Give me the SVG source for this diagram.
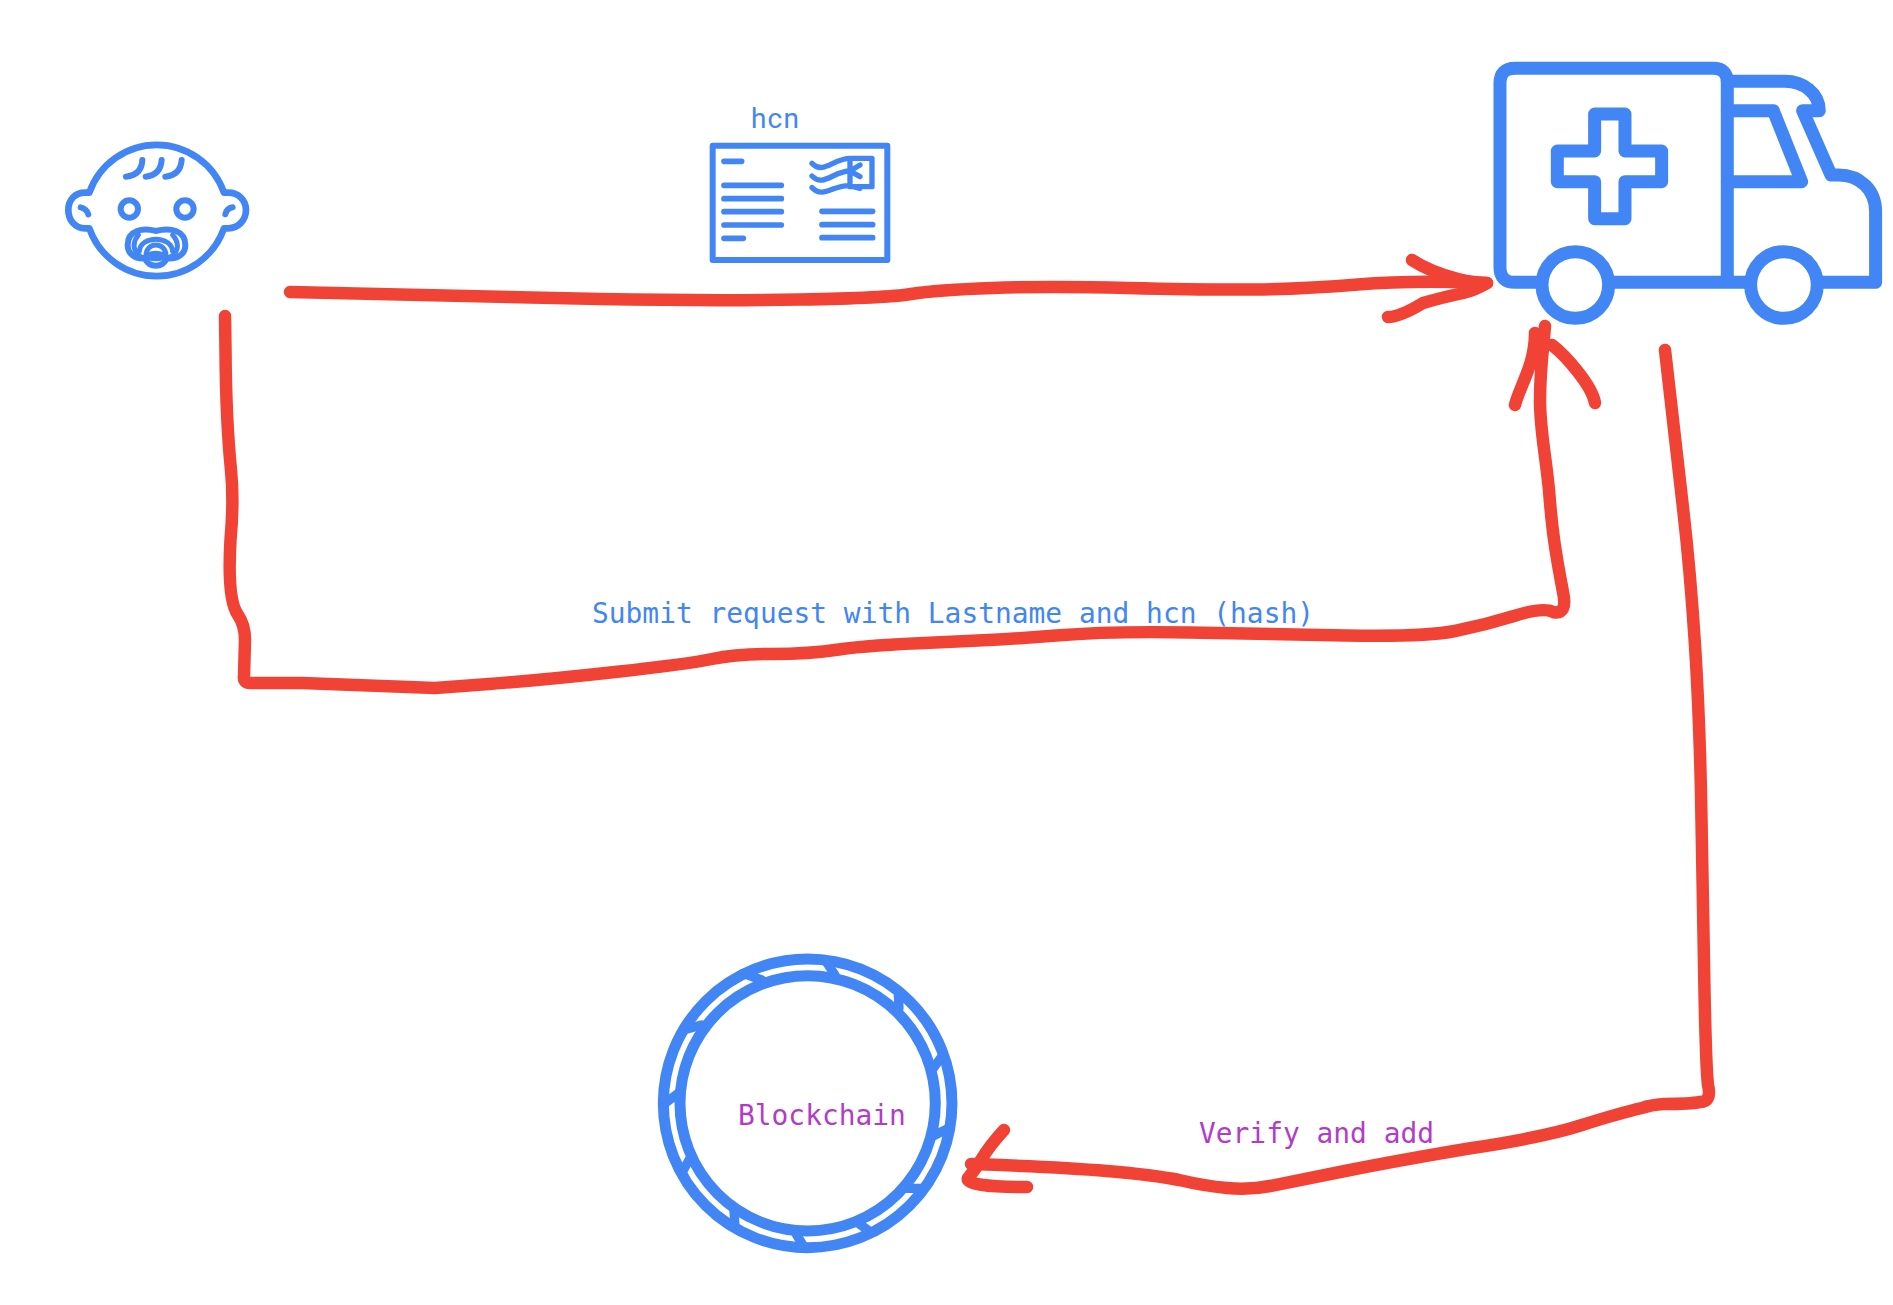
<svg xmlns="http://www.w3.org/2000/svg" width="1893" height="1305" viewBox="0 0 1893 1305">
<style>
.b{fill:none;stroke:#4285f4;stroke-linecap:round;stroke-linejoin:round}
.r{fill:none;stroke:#f14236;stroke-width:12.5;stroke-linecap:round;stroke-linejoin:round}
.m{font-family:"DejaVu Sans Mono","Liberation Mono",monospace;font-size:27.9px}
</style>
<rect width="1893" height="1305" fill="#fff"/>
<g id="connectors">
<g id="c1">
<path class="r" d="M290 292L600 299Q712 301 800 299.5Q887 298 911 294Q936 290 993 288Q1050 286 1128 288Q1207 290 1255 289.5Q1304 289 1358 284.5Q1412 280 1487 283"/>
<path class="r" d="M1412 260Q1430 272 1458 279Q1475 283 1487 283Q1475 290 1463 293Q1440 298 1423 303Q1400 317 1388 317"/>
</g>
<g id="c2">
<path class="r" d="M225 316L225.5 351Q226 420 231 470Q234 501 230.5 540Q227 600 238 615Q245 625 245 640L244 676Q243 683 250 683L302 683Q368 685.5 435 688Q489 684 489 684Q543 680 615 672Q688 664 712 659Q736 654 772 654Q809 654 839 649.5Q869 645 935 642.5Q1002 640 1056 635.5Q1111 631 1189 632.5Q1268 634 1346 635.5Q1425 637 1455 631Q1485 625 1514 616Q1543 607 1553 612Q1568 615 1563 592C1555 550 1552 530 1549 490C1545 450 1540 430 1540 400C1540 370 1543 350 1545 326"/>
<path class="r" d="M1535 333C1535 365 1520 385 1515 405"/>
<path class="r" d="M1552 345C1565 355 1592 385 1595 403"/>
</g>
<g id="c3">
<path class="r" d="M1665 350Q1675 440 1682.5 503.5Q1690 567 1695 645Q1700 724 1701.5 820Q1703 917 1704.5 992Q1706 1068 1708 1085Q1712 1102 1700 1102Q1690 1104 1664 1104Q1650 1105 1642 1108Q1620 1113 1582 1125Q1545 1137 1472 1148Q1400 1160 1345 1171Q1290 1182 1270 1186Q1250 1190 1227 1188Q1205 1186 1179 1180Q1154 1175 1107 1171Q1060 1167 971 1164"/>
<path class="r" d="M1004 1130Q990 1145 981 1160Q975 1170 968 1178Q965 1187 1027 1187"/>
</g>
<text class="m" x="592" y="623" fill="#4285f4">Submit request with Lastname and hcn (hash)</text>
<text class="m" x="1199" y="1143" fill="#b23cc9">Verify and add</text>
</g>
<g id="baby" transform="translate(40 120) scale(.3333)">
<path class="b" stroke-width="20" d="M148 218H135C105 218 85 240 85 270C85 300 105 325 135 325H148A214 214 0 0 0 552 325H565C595 325 618 300 618 270C618 240 595 218 565 218H552A214 214 0 0 0 148 218Z"/>
<circle class="b" stroke-width="18" cx="268" cy="267" r="26"/>
<circle class="b" stroke-width="18" cx="435" cy="267" r="26"/>
<path class="b" stroke-width="18" d="M122 262Q140 266 145 283M578 262Q560 265 556 283M258 170Q305 165 307 120M317 170Q362 165 365 120M376 170Q422 165 425 120"/>
<path class="b" stroke-width="18" d="M347 333C310 322 263 330 263 375C263 405 290 418 315 415C325 445 370 445 380 415C410 418 436 405 436 375C436 330 390 322 347 333Z"/>
<path class="b" stroke-width="15" d="M295 345C270 375 285 408 315 415M398 345C425 375 410 408 380 415M298 395C300 345 395 345 398 395M318 405C320 365 375 365 378 405"/>
<ellipse cx="347" cy="408" rx="34" ry="16" fill="#4285f4"/>
</g>
<g id="hcn">
<text x="751" y="128" fill="#4285f4" font-family="Roboto,'Liberation Sans',sans-serif" font-size="28" letter-spacing="1.2">hcn</text>
<g transform="translate(690 90) scale(.3333)">
<rect class="b" stroke-width="18" x="68" y="167" width="524" height="343"/>
<path class="b" stroke-width="17" d="M102 214H155M102 286H274M102 326H274M102 365H274M102 405H274M102 445H160M396 364H548M396 404H548M396 443H548"/>
<path class="b" stroke-width="16" d="M366 220C400 255 430 205 480 205H546V290H480M366 258C400 293 430 243 480 243L510 225M366 293C400 328 430 283 480 287L510 295M480 205V287M480 243L510 260"/>
</g>
</g>
<g id="ambulance" transform="translate(1370 40) scale(.3333)">
<path class="b" stroke-width="39" d="M515 727H435Q390 727 390 682V130Q390 85 435 85H1030Q1072 85 1072 127V727H1140M720 727H1072"/>
<path class="b" stroke-width="39" d="M1072 124H1245C1300 124 1348 160 1348 212H1298L1383 405H1405C1470 405 1517 450 1517 515V727H1345"/>
<path class="b" stroke-width="39" d="M1072 212H1210L1295 425H1072"/>
<path class="b" stroke-width="39" d="M674 222H765V333H875V425H765V536H674V425H562V333H674Z"/>
<circle class="b" stroke-width="39" cx="616" cy="735" r="100"/>
<circle class="b" stroke-width="39" cx="1242" cy="735" r="100"/>
</g>
<g id="blockchain">
<g transform="translate(640 940) scale(.3333)">
<circle class="b" stroke-width="33" cx="503" cy="490" r="433"/>
<circle class="b" stroke-width="33" cx="503" cy="490" r="383"/>
<path class="b" stroke-linecap="butt" stroke-width="28" d="M555 60L585 105M775 160L777 205M905 350L880 385M925 565L885 585M845 745L800 745M690 875L655 850M495 925L470 885M285 860L282 810M125 700L150 655M75 490L115 460M130 270L185 255M310 100L365 120"/>
</g>
<text class="m" x="738" y="1125" fill="#b23cc9">Blockchain</text>
</g>
</svg>
